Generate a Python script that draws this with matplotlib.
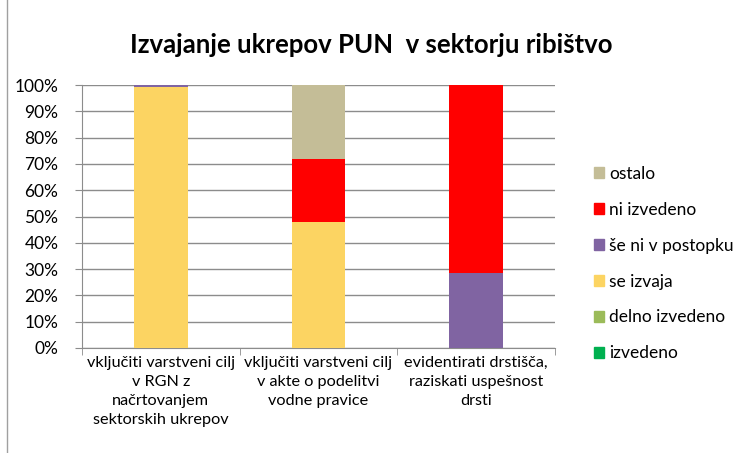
import numpy as np
import matplotlib.pyplot as plt
from matplotlib.patches import Patch
from matplotlib.lines import Line2D

plt.rcParams['font.family'] = ['Lato', 'DejaVu Sans']

categories = ['vključiti varstveni cilj\nv RGN z\nnačrtovanjem\nsektorskih ukrepov',
              'vključiti varstveni cilj\nv akte o podelitvi\nvodne pravice',
              'evidentirati drstišča,\nraziskati uspešnost\ndrsti']
series = ['izvedeno', 'delno izvedeno', 'se izvaja', 'še ni v postopku', 'ni izvedeno', 'ostalo']
values = {
    'izvedeno':         [0.0, 0.0, 0.0],
    'delno izvedeno':   [0.0, 0.0, 0.0],
    'se izvaja':        [99.4, 48.0, 0.0],
    'še ni v postopku': [0.6, 0.0, 28.5],
    'ni izvedeno':      [0.0, 24.0, 71.5],
    'ostalo':           [0.0, 28.0, 0.0],
}
colors = {
    'izvedeno': '#00B050',
    'delno izvedeno': '#9BBB59',
    'se izvaja': '#FCD462',
    'še ni v postopku': '#8064A2',
    'ni izvedeno': '#FF0000',
    'ostalo': '#C4BD97',
}

fig = plt.figure(figsize=(7.43, 4.53), dpi=100)
ax = fig.add_axes([82/743, 1-348/453, 473/743, 263/453])

x = np.arange(len(categories))
bottom = np.zeros(len(categories))
for s in series:
    v = np.array(values[s])
    ax.bar(x, v, 0.34, bottom=bottom, color=colors[s], zorder=3)
    bottom += v

ax.set_xlim(-0.5, 2.5)
ax.set_ylim(0, 100)
ax.set_yticks(np.arange(0, 101, 10))
ax.set_yticklabels([f'{t}%' for t in range(0, 101, 10)], fontsize=12.5)
ax.yaxis.grid(True, color='#8C8C8C', lw=1, zorder=0)
ax.set_xticks(x)
ax.set_xticklabels(categories, fontsize=11.7, linespacing=1.45)
ax.set_xticks([-0.5, 0.5, 1.5, 2.5], minor=True)
ax.tick_params(axis='x', which='major', length=0, pad=6)
ax.tick_params(axis='x', which='minor', length=5, color='#8C8C8C')
ax.tick_params(axis='y', length=5, color='#8C8C8C', pad=12)
for sp in ['top', 'right']:
    ax.spines[sp].set_visible(False)
for sp in ['left', 'bottom']:
    ax.spines[sp].set_color('#8C8C8C')

fig.text(0.5, 1-45/453, 'Izvajanje ukrepov PUN  v sektorju ribištvo',
         ha='center', va='center', fontsize=18.5, fontweight='bold')

handles = [Patch(color=colors[s]) for s in reversed(series)]
fig.legend(handles, list(reversed(series)), loc='upper left',
           bbox_to_anchor=(578/743, 1-150/453), frameon=False, fontsize=12.5,
           handlelength=0.6, handleheight=0.6, handletextpad=0.3, labelspacing=1.15)

fig.add_artist(Line2D([7/743, 7/743], [0, 1], color='#A0A0A0', lw=1))

fig.savefig('out.png', dpi=100)
